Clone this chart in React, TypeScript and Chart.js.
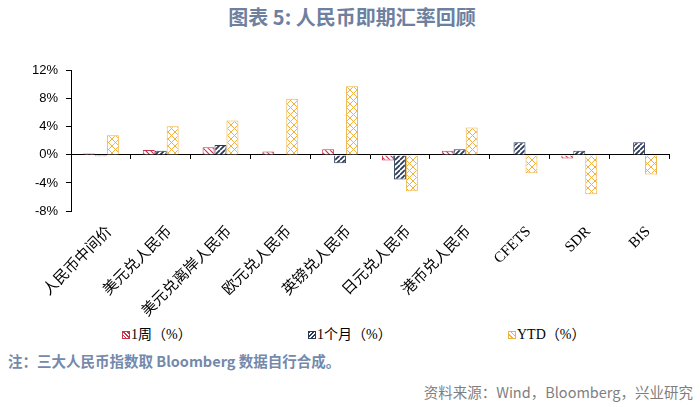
import React, { useEffect, useRef } from 'react';
import { Chart, registerables } from 'chart.js';

Chart.register(...registerables);

const categories = ['人民币中间价', '美元兑人民币', '美元兑离岸人民币', '欧元兑人民币', '英镑兑人民币', '日元兑人民币', '港币兑人民币', 'CFETS', 'SDR', 'BIS'];
const weekValues = [0.2, 0.7, 1.1, 0.5, 0.8, -0.8, 0.6, -0.1, -0.5, 0.0];
const monthValues = [-0.2, 0.6, 1.4, -0.1, -1.2, -3.5, 0.8, 1.8, 0.6, 1.8];
const ytdValues = [2.8, 4.1, 4.9, 8.0, 9.8, -5.2, 3.9, -2.6, -5.6, -2.8];
const seriesNames = ['1周（%）', '1个月（%）', 'YTD（%）'];
const yMin = -8;
const yMax = 12;
const yStep = 4;

const RED = '#C8344E';
const NAVY = '#2B3A57';
const ORANGE = '#F2B13C';

function makePattern(kind: string, color: string, size: number, lw: number): CanvasPattern | string {
  const c = document.createElement('canvas');
  c.width = size;
  c.height = size;
  const ctx = c.getContext('2d');
  if (!ctx) return color;
  ctx.fillStyle = '#ffffff';
  ctx.fillRect(0, 0, size, size);
  ctx.strokeStyle = color;
  ctx.lineWidth = lw;
  ctx.beginPath();
  for (const k of [-size, 0, size]) {
    if (kind === 'back' || kind === 'cross') {
      ctx.moveTo(k, 0);
      ctx.lineTo(k + size, size);
    }
    if (kind === 'fwd' || kind === 'cross') {
      ctx.moveTo(k, size);
      ctx.lineTo(k + size, 0);
    }
  }
  ctx.stroke();
  const p = ctx.createPattern(c, 'repeat');
  return p || color;
}

const serifFont = '"Liberation Serif", "Times New Roman", "Noto Sans CJK SC", serif';
const sansCJK = '"Noto Sans CJK SC", "Noto Sans", sans-serif';

function LegendBox({ color, bg }: { color: string; bg: string }) {
  return (
    <span
      style={{
        display: 'inline-block',
        width: 6,
        height: 6,
        border: `1px solid ${color}`,
        background: bg,
        marginRight: 1,
        verticalAlign: 'middle',
        position: 'relative',
        top: -1,
      }}
    />
  );
}

export default function App() {
  const canvasRef = useRef<HTMLCanvasElement | null>(null);

  useEffect(() => {
    const canvas = canvasRef.current;
    if (!canvas) return;
    const redPat = makePattern('back', RED, 5, 1.2);
    const navyPat = makePattern('fwd', NAVY, 5, 1.8);
    const orangePat = makePattern('cross', ORANGE, 7, 1);

    const chart = new Chart(canvas, {
      type: 'bar',
      data: {
        labels: categories,
        datasets: [
          { label: seriesNames[0], data: weekValues, backgroundColor: redPat as any, borderColor: RED, borderWidth: 1, categoryPercentage: 0.6, barPercentage: 1 },
          { label: seriesNames[1], data: monthValues, backgroundColor: navyPat as any, borderColor: NAVY, borderWidth: 1, categoryPercentage: 0.6, barPercentage: 1 },
          { label: seriesNames[2], data: ytdValues, backgroundColor: orangePat as any, borderColor: ORANGE, borderWidth: 1, categoryPercentage: 0.6, barPercentage: 1 },
        ],
      },
      options: {
        animation: false,
        responsive: false,
        maintainAspectRatio: false,
        layout: { padding: { left: 0, right: 31, top: 13, bottom: 0 } },
        plugins: {
          legend: { display: false },
          tooltip: { enabled: false },
          title: { display: false },
        },
        scales: {
          x: {
            type: 'category',
            position: 'bottom',
            grid: { display: false, drawTicks: false },
            border: { display: false },
            ticks: {
              autoSkip: false,
              minRotation: 45,
              maxRotation: 45,
              padding: 12,
              labelOffset: 9,
              color: '#000',
              font: { family: serifFont, size: 15 },
            },
            afterFit: (s: any) => {
              s.height = 109;
            },
          },
          x2: {
            type: 'category',
            axis: 'x',
            position: { y: 0 } as any,
            offset: true,
            grid: { display: true, drawOnChartArea: false, drawTicks: true, tickLength: 4, color: '#000', offset: true, lineWidth: 1 },
            border: { display: true, color: '#000', width: 1 },
            ticks: { display: false },
          } as any,
          y: {
            min: yMin,
            max: yMax,
            ticks: {
              stepSize: yStep,
              padding: 8,
              color: '#000',
              font: { family: '"Liberation Sans", Arial, sans-serif', size: 13 },
              callback: (v: any) => `${v}%`,
            },
            grid: { drawOnChartArea: false, drawTicks: true, tickLength: 5, color: '#000' },
            border: { display: true, color: '#000', width: 1 },
            afterFit: (s: any) => {
              s.width = 71;
            },
          },
        },
      },
    });
    return () => chart.destroy();
  }, []);

  const legendItems = [
    { left: 122, color: RED, bg: `repeating-linear-gradient(45deg, #fff 0 1.5px, ${RED} 1.5px 2.7px)` },
    { left: 308, color: NAVY, bg: `repeating-linear-gradient(-45deg, #fff 0 1.5px, ${NAVY} 1.5px 3px)` },
    { left: 508, color: ORANGE, bg: `repeating-linear-gradient(45deg, #fff 0 2px, ${ORANGE} 2px 3px), #fff` },
  ];

  return (
    <div style={{ position: 'absolute', left: 0, top: 0, width: 700, height: 407, background: '#fff', overflow: 'hidden' }}>
      <div
        style={{
          position: 'absolute',
          left: 2,
          top: 5,
          width: 700,
          textAlign: 'center',
          fontFamily: sansCJK,
          fontWeight: 700,
          fontSize: 20,
          lineHeight: '24px',
          color: '#6E809F',
        }}
      >
        图表 5: 人民币即期汇率回顾
      </div>
      <canvas ref={canvasRef} width={700} height={265} style={{ position: 'absolute', left: 0, top: 55, width: 700, height: 265 }} />
      {legendItems.map((it, i) => (
        <div
          key={i}
          style={{
            position: 'absolute',
            left: it.left,
            top: 326,
            fontFamily: serifFont,
            fontSize: 14,
            lineHeight: '18px',
            color: '#000',
            whiteSpace: 'nowrap',
          }}
        >
          <LegendBox color={it.color} bg={it.bg} />
          {seriesNames[i]}
        </div>
      ))}
      <div
        style={{
          position: 'absolute',
          left: 8,
          top: 352,
          fontFamily: sansCJK,
          fontWeight: 700,
          fontSize: 14.5,
          lineHeight: '18px',
          color: '#7489AB',
          whiteSpace: 'nowrap',
        }}
      >
        注：三大人民币指数取 Bloomberg 数据自行合成。
      </div>
      <div
        style={{
          position: 'absolute',
          right: 7,
          top: 383,
          fontFamily: sansCJK,
          fontSize: 14.5,
          lineHeight: '18px',
          color: '#7F7F7F',
          whiteSpace: 'nowrap',
        }}
      >
        资料来源：Wind，Bloomberg，兴业研究
      </div>
    </div>
  );
}
